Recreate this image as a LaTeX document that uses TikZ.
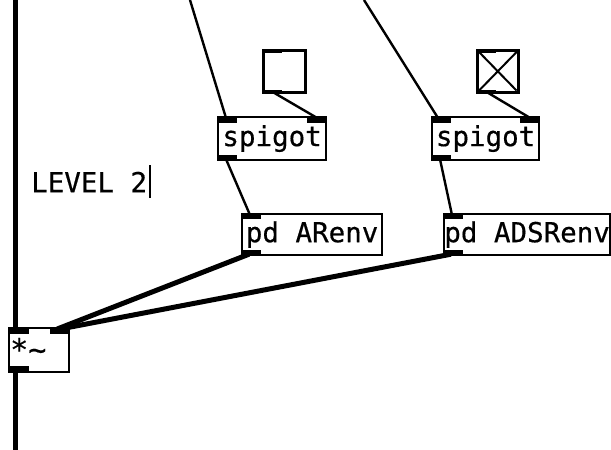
\documentclass[tikz,border=0pt]{standalone}
\usepackage{fontspec}
\setmonofont[FakeBold=0.5]{DejaVu Sans Mono}
\usetikzlibrary{calc}
\tikzset{
  obj/.style={draw=black, line width=2.2pt, inner sep=0pt, anchor=north west,
    font=\ttfamily\fontsize{27.5}{30}\selectfont},
  tgl/.style={draw=black, line width=2.6pt, inner sep=0pt, anchor=north west},
  port/.style={fill=black},
  wire/.style={draw=black, line width=2.4pt},
  sigwire/.style={draw=black, line width=5pt},
  lbl/.style={inner sep=0pt, font=\ttfamily\fontsize{27.5}{30}\selectfont}
}
\begin{document}
\begin{tikzpicture}[x=1pt,y=-1pt]
\useasboundingbox (0,0) rectangle (611,450);
\fill[white] (0,0) rectangle (611,450);

% objects
\node[tgl, minimum width=42pt, minimum height=42pt] (t1) at (262,49) {};
\node[tgl, minimum width=41pt, minimum height=42pt] (t2) at (476,49) {};
\node[obj, minimum width=108pt, minimum height=43pt] (sp1) at (217,116) {spigot};
\node[obj, minimum width=107pt, minimum height=43pt] (sp2) at (431,116) {spigot};
\node[obj, minimum width=140pt, minimum height=41pt] (ar) at (241,213) {pd ARenv};
\node[obj, minimum width=166pt, minimum height=41pt] (adsr) at (443,213) {pd ADSRenv};
\node[obj, minimum width=60pt, minimum height=44pt] (mul) at (8,327) {};
\node[lbl, anchor=west, font=\ttfamily\fontsize{30}{32}\selectfont] (multxt) at ([xshift=2pt,yshift=1pt]mul.west) {*\char"7E};

% comment with edit cursor
\node[lbl, anchor=west] (level) at (31,182) {LEVEL 2};
\draw[line width=2pt] (150,165) -- (150,198);

% checked toggle
\draw[line width=2pt] ([shift={(3,3)}]t2.north west) -- ([shift={(-3,-3)}]t2.south east);
\draw[line width=2pt] ([shift={(3,-3)}]t2.south west) -- ([shift={(-3,3)}]t2.north east);

% inlets and outlets
\foreach \n in {t1,t2} {
  \fill[port] (\n.north west) rectangle ++(20,4);
  \fill[port] (\n.south west) rectangle ++(20,-4);
}
\foreach \n in {sp1,sp2} {
  \fill[port] (\n.north west) rectangle ++(20,7);
  \fill[port] (\n.north east) rectangle ++(-20,7);
  \fill[port] (\n.south west) rectangle ++(20,-6);
}
\foreach \n in {ar,adsr} {
  \fill[port] (\n.north west) rectangle ++(20,6);
  \fill[port] (\n.south west) rectangle ++(20,-6);
}
\fill[port] (mul.north west) rectangle ++(21,7);
\fill[port] (mul.north east) rectangle ++(-20,7);
\fill[port] (mul.south west) rectangle ++(21,-7);

% free ends of incoming wires
\coordinate (inA) at (190,0);
\coordinate (inB) at (364,0);
\coordinate (inC) at (15,0);
\coordinate (outC) at (15,450);

% control wires
\draw[wire] (inA) -- ([shift={(9,2)}]sp1.north west);
\draw[wire] (inB) -- ([shift={(7,2)}]sp2.north west);
\draw[wire] ([shift={(10,-2)}]t1.south west) -- ([shift={(-10,2)}]sp1.north east);
\draw[wire] ([shift={(10,-2)}]t2.south west) -- ([shift={(-10,2)}]sp2.north east);
\draw[wire] ([shift={(9,-2)}]sp1.south west) -- ([shift={(9,2)}]ar.north west);
\draw[wire] ([shift={(9,-2)}]sp2.south west) -- ([shift={(9,2)}]adsr.north west);

% signal wires
\draw[sigwire] (inC) -- ([shift={(7,2)}]mul.north west);
\draw[sigwire] ([shift={(7,-2)}]mul.south west) -- (outC);
\draw[sigwire] ([shift={(8,-2)}]ar.south west) -- ([shift={(-13,2)}]mul.north east);
\draw[sigwire] ([shift={(8,-2)}]adsr.south west) -- ([shift={(-10,2)}]mul.north east);
\end{tikzpicture}
\end{document}
